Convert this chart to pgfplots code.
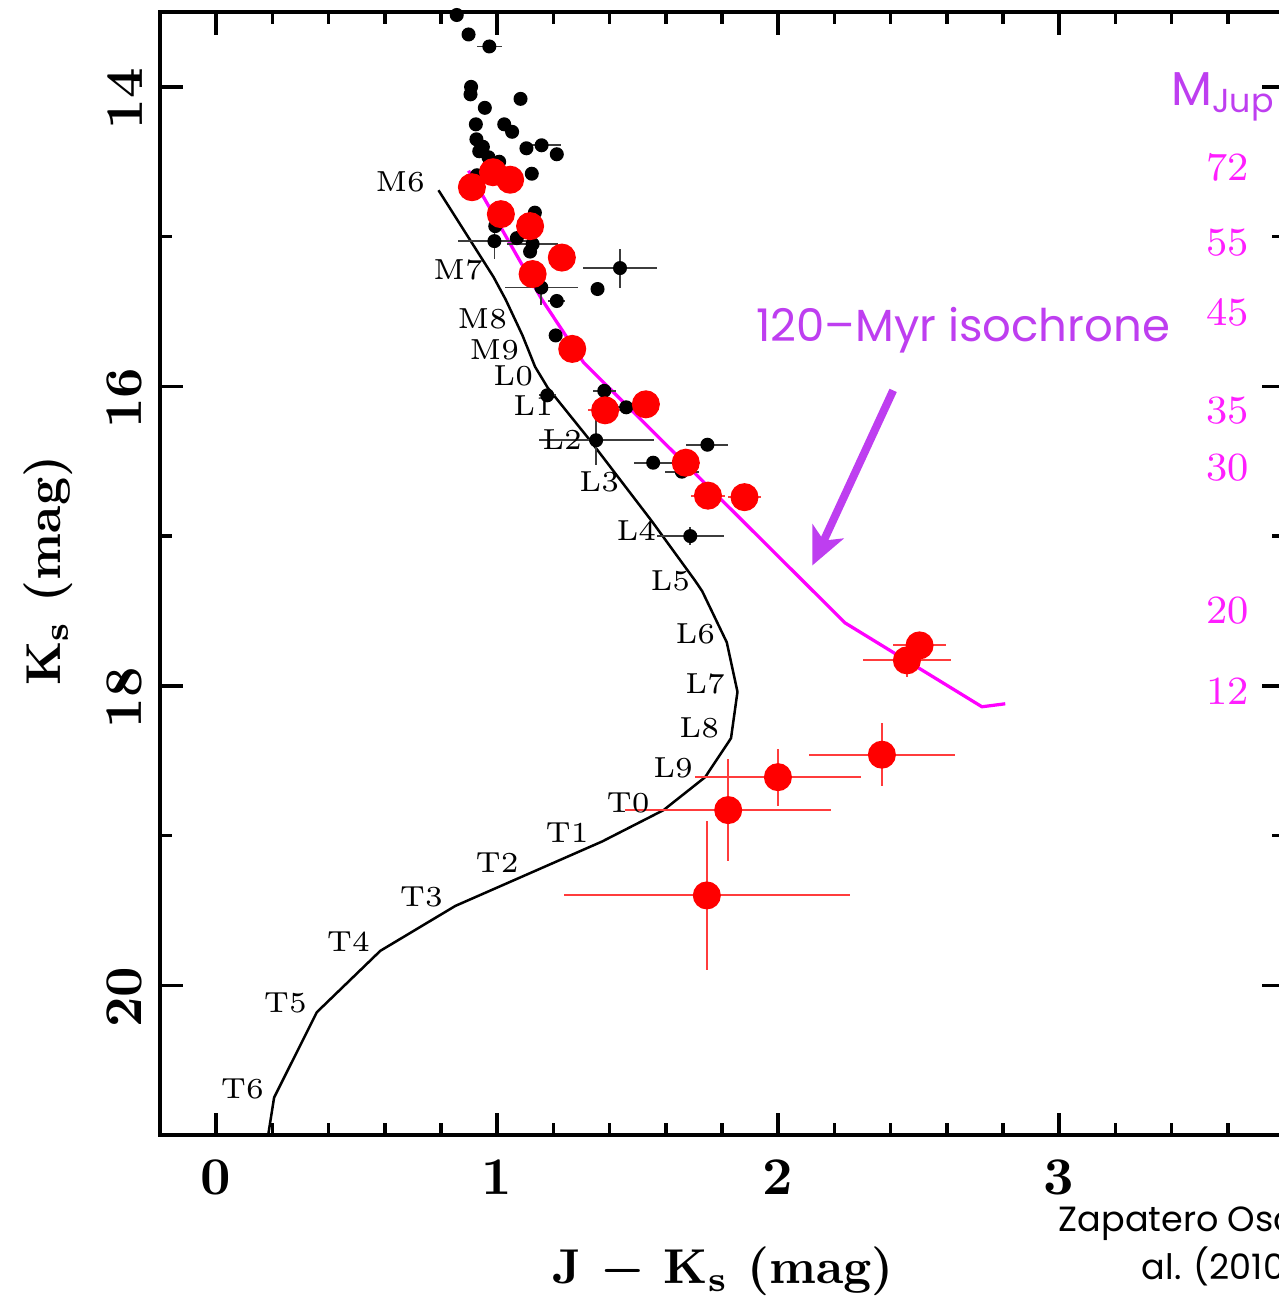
\documentclass[border=0pt]{standalone}
\usepackage{fontspec}
\usepackage{pgfplots}
\pgfplotsset{compat=1.18}
\usepackage{pgfplotstable}
\usetikzlibrary{arrows.meta}
\newfontfamily\comicfont{Poppins}
\definecolor{isopurple}{RGB}{190,62,240}
\definecolor{isomag}{RGB}{255,0,255}
\definecolor{jupmag}{RGB}{255,30,255}
\definecolor{errred}{RGB}{255,60,60}
\definecolor{errgray}{RGB}{60,60,60}

% spectral-type sequence (field dwarfs)
\pgfplotstableread{
x      y
0.791  14.69
0.987  15.27
1.030  15.42
1.090  15.66
1.135  15.87
1.180  16.01
1.330  16.36
1.550  16.90
1.705  17.30
1.730  17.37
1.817  17.71
1.855  18.04
1.832  18.35
1.740  18.61
1.592  18.83
1.373  19.04
0.851  19.47
0.584  19.77
0.358  20.18
0.206  20.75
0.185  21.00
}\seqtable

% 120-Myr isochrone
\pgfplotstableread{
x      y
0.898  14.56
1.159  15.42
1.307  15.84
2.238  17.58
2.725  18.14
2.808  18.12
}\isotable

% black members
\pgfplotstableread{
x      y      ex     ey
0.856  13.52  0      0
0.898  13.65  0      0
0.972  13.73  0.045  0.02
0.907  14.00  0      0
0.905  14.05  0      0
0.956  14.14  0      0
1.083  14.08  0      0
0.924  14.25  0      0
1.025  14.25  0      0
1.053  14.30  0      0
0.926  14.35  0      0
0.949  14.40  0      0
0.936  14.43  0      0
0.969  14.47  0      0
1.007  14.50  0      0
1.104  14.41  0      0
1.158  14.39  0.07   0
1.212  14.45  0      0
1.123  14.58  0      0
0.928  14.59  0      0
1.134  14.84  0      0
0.993  14.93  0      0
0.990  15.03  0.13   0.12
1.070  15.01  0      0
1.126  15.05  0.09   0.03
1.117  15.10  0      0
1.437  15.21  0.13   0.13
1.357  15.35  0      0
1.157  15.34  0.13   0.12
1.212  15.43  0.03   0
1.208  15.66  0.02   0
1.178  16.06  0.03   0
1.381  16.03  0.04   0
1.459  16.14  0.03   0
1.352  16.36  0.205  0.167
1.748  16.39  0.075  0.03
1.555  16.51  0.07   0.02
1.657  16.57  0.06   0.02
1.687  17.00  0.12   0.06
}\blacktable

% red candidates
\pgfplotstableread{
x      y      ex     ey
0.910  14.67  0      0
0.985  14.57  0      0
1.046  14.62  0      0
1.013  14.85  0      0
1.117  14.93  0      0
1.230  15.14  0      0
1.126  15.25  0      0
1.267  15.75  0      0
1.384  16.16  0.06   0
1.529  16.12  0.05   0
1.671  16.51  0.05   0
1.750  16.73  0.06   0
1.880  16.74  0.06   0
2.503  17.73  0.095  0.03
2.458  17.83  0.157  0.11
2.369  18.46  0.26   0.21
1.999  18.61  0.295  0.19
1.822  18.83  0.366  0.34
1.746  19.40  0.51   0.50
}\redtable

\begin{document}
\begin{tikzpicture}
\begin{axis}[
    scale only axis,
    width=224.8pt, height=224.6pt,
    xmin=-0.2, xmax=3.8,
    ymin=13.5, ymax=21,
    y dir=reverse,
    clip=false,
    axis line style={line width=0.8pt},
    xtick={0,1,2,3},
    minor xtick={0.2,0.4,0.6,0.8,1.2,1.4,1.6,1.8,2.2,2.4,2.6,2.8,3.2,3.4,3.6},
    ytick={14,16,18,20},
    minor ytick={15,17,19},
    tick align=inside,
    xtick pos=both, ytick pos=both,
    major tick length=4.5pt, minor tick length=2.4pt,
    every tick/.style={black, line width=0.7pt},
    /pgf/number format/assume math mode=true,
    ticklabel style={font=\fontsize{10.6}{12}\selectfont\bfseries},
    xticklabel style={yshift=-1.4pt},
    yticklabel style={rotate=90, anchor=south, xshift=-2.4pt},
]
\addplot[black, line width=0.5pt, mark=none] table[x=x, y=y] {\seqtable};
\addplot[isomag, line width=0.65pt, mark=none] table[x=x, y=y] {\isotable};

\addplot[only marks, mark=*, mark size=1.2pt, black,
    error bars/.cd, x dir=both, x explicit, y dir=both, y explicit,
    error mark=none, error bar style={errgray, line width=0.35pt}]
    table[x=x, y=y, x error=ex, y error=ey] {\blacktable};

\addplot[only marks, mark=*, mark size=2.6pt, red, mark options={fill=red, draw=red},
    error bars/.cd, x dir=both, x explicit, y dir=both, y explicit,
    error mark=none, error bar style={errred, line width=0.4pt}]
    table[x=x, y=y, x error=ex, y error=ey] {\redtable};

% spectral types along the sequence
\begin{scope}[every node/.style={font=\fontsize{5.8}{7}\selectfont, inner sep=0pt}]
\node at (axis cs:0.655,14.635) {M6};
\node at (axis cs:0.861,15.224) {M7};
\node at (axis cs:0.947,15.552) {M8};
\node at (axis cs:0.990,15.759) {M9};
\node at (axis cs:1.057,15.933) {L0};
\node at (axis cs:1.128,16.127) {L1};
\node at (axis cs:1.231,16.355) {L2};
\node at (axis cs:1.363,16.636) {L3};
\node at (axis cs:1.495,16.963) {L4};
\node at (axis cs:1.616,17.298) {L5};
\node at (axis cs:1.705,17.652) {L6};
\node at (axis cs:1.740,17.987) {L7};
\node at (axis cs:1.719,18.281) {L8};
\node at (axis cs:1.626,18.548) {L9};
\node at (axis cs:1.466,18.783) {T0};
\node at (axis cs:1.249,18.983) {T1};
\node at (axis cs:1.000,19.184) {T2};
\node at (axis cs:0.730,19.411) {T3};
\node at (axis cs:0.470,19.706) {T4};
\node at (axis cs:0.246,20.120) {T5};
\node at (axis cs:0.093,20.696) {T6};
\end{scope}

% mass scale on the right
\begin{scope}[every node/.style={jupmag, font=\fontsize{8}{9}\selectfont, inner sep=0pt}]
\node at (axis cs:3.598,14.535) {72};
\node at (axis cs:3.598,15.043) {55};
\node at (axis cs:3.598,15.505) {45};
\node at (axis cs:3.598,16.161) {35};
\node at (axis cs:3.598,16.542) {30};
\node at (axis cs:3.598,17.498) {20};
\node at (axis cs:3.598,18.033) {12};
\end{scope}
\node[isopurple, font=\comicfont\fontsize{9.5}{11}\selectfont, inner sep=0pt]
    at (axis cs:3.585,14.067) {M\textsubscript{Jup}};

\node[isopurple, font=\comicfont\fontsize{9}{11}\selectfont, inner sep=0pt]
    at (axis cs:2.658,15.625) {120–Myr isochrone};
\draw[isopurple, line width=1.6pt, -{Stealth[length=7.5pt, width=6.8pt, inset=2pt]}]
    (axis cs:2.409,16.027) -- (axis cs:2.121,17.197);

\node[align=center, font=\comicfont\fontsize{7}{9.6}\selectfont, inner sep=0pt]
    at (axis cs:3.577,21.74) {Zapatero Osorio et\\al. (2010)};

% axis titles
\node[font=\fontsize{9.8}{12}\selectfont\bfseries\boldmath, inner sep=0pt]
    at (axis cs:1.804,21.913) {J $-$ K$_{\mathbf{s}}$ (mag)};
\node[rotate=90, font=\fontsize{9.8}{12}\selectfont\bfseries\boldmath, inner sep=0pt]
    at (axis cs:-0.598,17.23) {K$_{\mathbf{s}}$ (mag)};
\end{axis}
\pgfresetboundingbox
\path[use as bounding box] ([shift={(-32pt,-33.4pt)}]current axis.south west)
    rectangle ([shift={(-1.2pt,2.4pt)}]current axis.north east);
\end{tikzpicture}
\end{document}
